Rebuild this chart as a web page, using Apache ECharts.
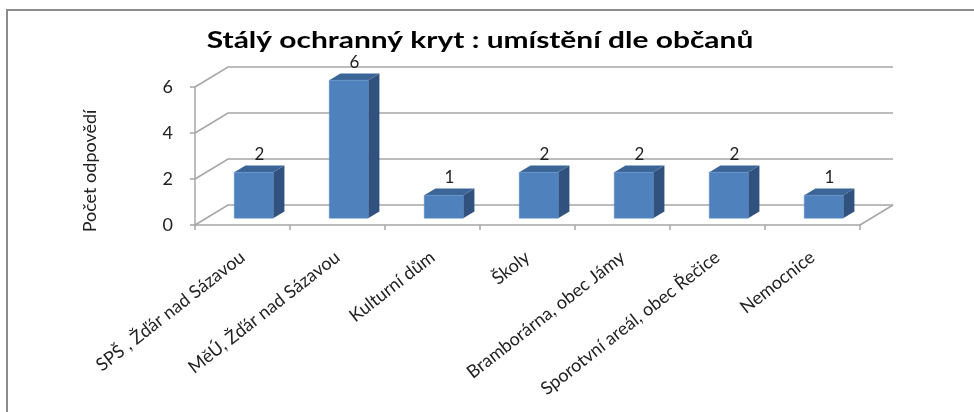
<!DOCTYPE html>
<html>
<head>
<meta charset="utf-8">
<title>Stálý ochranný kryt</title>
<script src="https://cdn.jsdelivr.net/npm/echarts@6/dist/echarts.min.js"></script>
<style>
  html, body { margin: 0; padding: 0; background: #fff; }
  #chart { width: 974px; height: 412px; }
</style>
</head>
<body>
<div id="chart"></div>
<script>
// data
var categories = [
    "SPŠ , Žďár nad Sázavou",
    "MěÚ, Žďár nad Sázavou",
    "Kulturní dům",
    "Školy",
    "Bramborárna, obec Jámy",
    "Sporotvní areál, obec Řečice",
    "Nemocnice"
];
var answers = [2, 6, 1, 2, 2, 2, 1];
var yTicks = [0, 2, 4, 6];

// 3D look (Excel-like)
var DEPTH_X = 33;       // posun zadni steny
var DEPTH_Y = -20;
var BAR_D1 = 0.34;      // predni hrana sloupce v hloubce
var BAR_D2 = 0.68;      // zadni hrana sloupce
var BAR_W = 0.41;       // sirka sloupce / sirka kategorie
var GRID_COLOR = "#a6a6a6";
var FONT = "Lato, 'Noto Sans', sans-serif";

var chart = echarts.init(document.getElementById("chart"));

function renderWall(params, api) {
    var cs = params.coordSys;
    var v = api.value(0);
    var p = api.coord([0, v]);
    var xl = cs.x, xr = cs.x + cs.width, y = p[1];
    var children = [{
        type: "polyline",
        shape: { points: [[xl, y], [xl + DEPTH_X, y + DEPTH_Y], [xr + DEPTH_X, y + DEPTH_Y]] },
        style: { stroke: GRID_COLOR, lineWidth: 1.5, fill: null }
    }];
    if (v === 0) {
        children.push({
            type: "line",
            shape: { x1: xr, y1: y, x2: xr + DEPTH_X, y2: y + DEPTH_Y },
            style: { stroke: GRID_COLOR, lineWidth: 1.5 }
        });
    }
    return { type: "group", children: children };
}

function renderBar(params, api) {
    var idx = api.value(0), val = api.value(1);
    var top = api.coord([idx, val]);
    var base = api.coord([idx, 0]);
    var band = api.size([1, 0])[0];
    var w = band * BAR_W;
    var xl = top[0] - w / 2 + BAR_D1 * DEPTH_X;
    var xr = xl + w;
    var yt = top[1] + BAR_D1 * DEPTH_Y;
    var yb = base[1] + BAR_D1 * DEPTH_Y;
    var ddx = (BAR_D2 - BAR_D1) * DEPTH_X;
    var ddy = (BAR_D2 - BAR_D1) * DEPTH_Y;
    return {
        type: "group",
        children: [
            { type: "polygon", shape: { points: [[xr, yt], [xr, yb], [xr + ddx, yb + ddy], [xr + ddx, yt + ddy]] },
              style: { fill: "#31527e" } },
            { type: "polygon", shape: { points: [[xl, yt], [xr, yt], [xr + ddx, yt + ddy], [xl + ddx, yt + ddy]] },
              style: { fill: "#3b6597" } },
            { type: "rect", shape: { x: xl, y: yt, width: w, height: yb - yt },
              style: { fill: "#4f81bd", stroke: "#5b8cc6", lineWidth: 0.5 } },
            { type: "text", x: xl + w / 2 + ddx / 2, y: yt + ddy - 2,
              style: { text: String(val), fill: "#222", font: "17px " + FONT, align: "center", verticalAlign: "bottom" } }
        ]
    };
}

var option = {
    backgroundColor: "#fff",
    animation: false,
    graphic: [
        { type: "rect", shape: { x: 7, y: 10, width: 1300, height: 700 },
          style: { fill: null, stroke: "#8c8c8c", lineWidth: 2 }, silent: true },
        // nadpis (v originale je graf vodorovne roztazeny)
        { type: "text", x: 480, y: 41, scaleX: 1.36,
          style: { text: "Stálý ochranný kryt : umístění dle občanů", fill: "#000",
                   font: "bold 22px " + FONT, align: "center", verticalAlign: "middle" } },
        { type: "text", x: 90, y: 171, rotation: Math.PI / 2,
          style: { text: "Počet odpovědí", fill: "#222", font: "18px " + FONT, align: "center", verticalAlign: "middle" } }
    ],
    grid: { left: 195, right: 114, top: 87, bottom: 187, containLabel: false },
    xAxis: {
        type: "category",
        data: categories,
        axisLine: { lineStyle: { color: GRID_COLOR, width: 1.5 } },
        axisTick: { show: true, length: 5, lineStyle: { color: GRID_COLOR, width: 1.5 } },
        axisLabel: { rotate: 38, interval: 0, margin: 30, color: "#222", fontFamily: FONT, fontSize: 18 },
        splitLine: { show: false }
    },
    yAxis: {
        type: "value",
        min: 0, max: 6, interval: 2,
        axisLine: { show: true, lineStyle: { color: GRID_COLOR, width: 1.5 } },
        axisTick: { show: true, length: 5, lineStyle: { color: GRID_COLOR, width: 1.5 } },
        axisLabel: { margin: 22, color: "#222", fontFamily: FONT, fontSize: 18 },
        splitLine: { show: false }
    },
    series: [
        { type: "custom", renderItem: renderWall, data: yTicks.map(function (t) { return [t]; }),
          encode: { y: 0 }, silent: true, z: 1 },
        { type: "custom", renderItem: renderBar, data: answers.map(function (v, i) { return [i, v]; }),
          encode: { x: 0, y: 1 }, z: 3 }
    ]
};

chart.setOption(option);
</script>
</body>
</html>
